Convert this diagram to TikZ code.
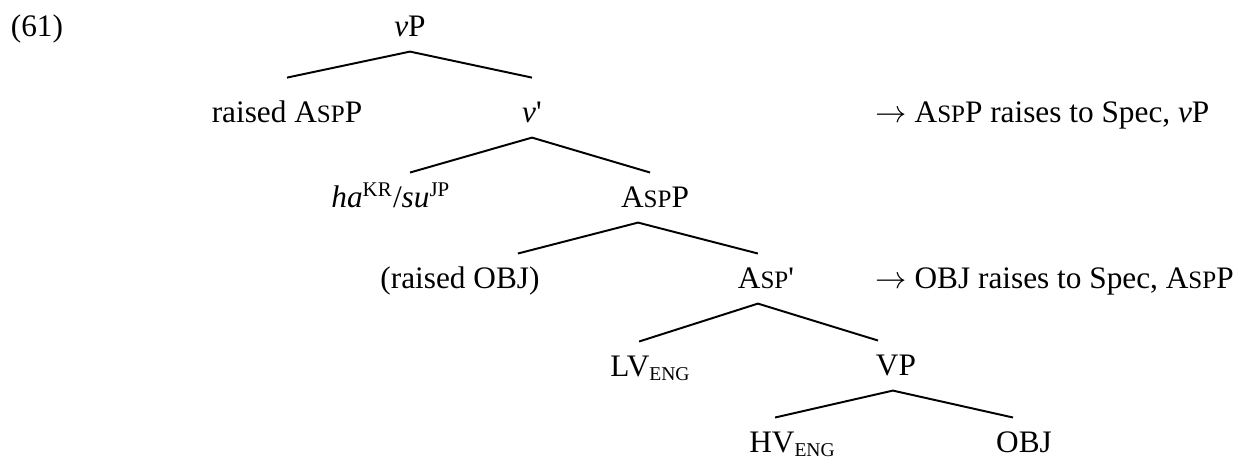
\documentclass[tikz,border=0pt,12pt]{standalone}
\usepackage{fontspec}
\setmainfont{Liberation Serif}
\newcommand{\smcap}[1]{{\fontsize{9.6pt}{10pt}\selectfont #1}}
\newcommand{\subeng}{\raisebox{-1.2pt}{\fontsize{7.5pt}{8pt}\selectfont ENG}}

\begin{document}
\begin{tikzpicture}[x=0.3834pt,y=-0.3834pt,
    lbl/.style={anchor=base,inner sep=0pt,text height=13.4pt,text depth=5.4pt},
    note/.style={anchor=base west,inner sep=0pt},
    branch/.style={line width=0.75pt}]
    \useasboundingbox (0,0) rectangle (1243,457);

    % example number and root
    \node[lbl] (ex) at (37,37) {(61)};
    \node[lbl] (vP) at (410,37) {\textit{v}P};

    % level 1
    \node[lbl] (raisedAsp) at (287,123) {raised A\smcap{SP}P};
    \node[lbl] (vbar) at (532,123) {\textit{v}\textquotesingle};
    \node[note] (noteAsp) at (875,123) {$\rightarrow$ A\smcap{SP}P raises to Spec, \textit{v}P};

    % level 2
    \node[lbl] (hasu) at (391,208) {\textit{ha}\textsuperscript{KR}/\textit{su}\textsuperscript{JP}};
    \node[lbl] (aspP) at (655,208) {A\smcap{SP}P};

    % level 3
    \node[lbl] (raisedObj) at (460,289) {(raised OBJ)};
    \node[lbl] (aspbar) at (766,289) {A\smcap{SP}\textquotesingle};
    \node[note] (noteObj) at (875,289) {$\rightarrow$ OBJ raises to Spec, A\smcap{SP}P};

    % level 4
    \node[lbl] (lv) at (650,377) {LV\subeng};
    \node[lbl] (vp) at (896,376) {VP};

    % level 5
    \node[lbl] (hv) at (792,453) {HV\subeng};
    \node[lbl] (obj) at (1024,453) {OBJ};

    % branches
    \draw[branch] ([yshift=3.8pt]raisedAsp.north) -- (vP.south) -- ([yshift=3.8pt]vbar.north);
    \draw[branch] ([xshift=7.3pt]hasu.north) -- (vbar.south) -- ([xshift=-1.9pt]aspP.north);
    \draw[branch] ([xshift=22.2pt]raisedObj.north) -- ([xshift=-6.5pt]aspP.south) -- ([xshift=-3.1pt]aspbar.north);
    \draw[branch] ([xshift=-4.2pt]lv.north) -- ([xshift=-3.1pt]aspbar.south) -- ([xshift=-6.9pt]vp.north);
    \draw[branch] ([xshift=-6.5pt]hv.north) -- ([xshift=-1.2pt]vp.south) -- ([xshift=-4.2pt]obj.north);

\end{tikzpicture}
\end{document}
